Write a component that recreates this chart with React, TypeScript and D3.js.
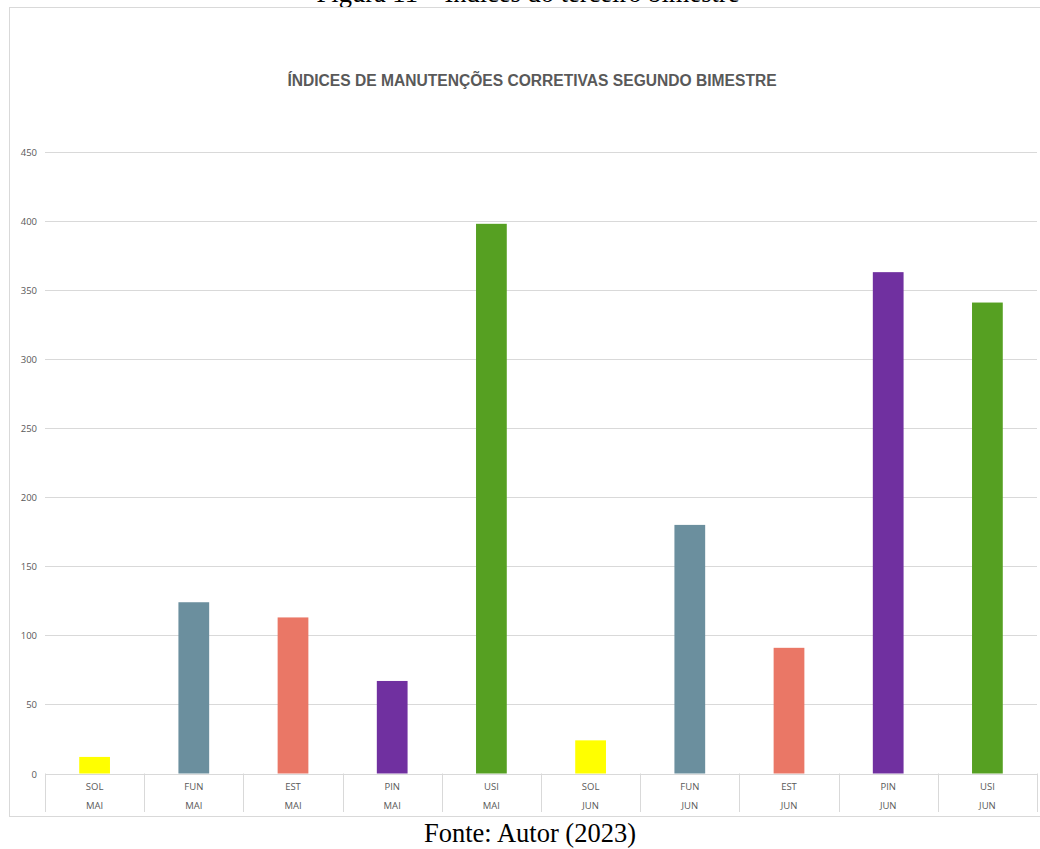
import * as d3 from 'd3';

// categorias e valores
const setores = ['SOL', 'FUN', 'EST', 'PIN', 'USI', 'SOL', 'FUN', 'EST', 'PIN', 'USI'];
const meses = ['MAI', 'MAI', 'MAI', 'MAI', 'MAI', 'JUN', 'JUN', 'JUN', 'JUN', 'JUN'];
const valores = [12, 124, 113, 67, 398, 24, 180, 91, 363, 341];
const yTicks = [0, 50, 100, 150, 200, 250, 300, 350, 400, 450];

const corSetor: Record<string, string> = {
    SOL: '#ffff00',
    FUN: '#6b8f9e',
    EST: '#ea7766',
    PIN: '#7030a0',
    USI: '#56a022',
};

export default function App() {
    const width = 1040;
    const height = 849;

    const margins = { left: 45, right: 1037, top: 152, bottom: 773.5 };

    const keys = setores.map((s, i) => `${s}-${meses[i]}-${i}`);

    const xScale = d3
        .scaleBand()
        .domain(keys)
        .range([margins.left, margins.right])
        .paddingInner(0.69)
        .paddingOuter(0.345);

    const yScale = d3.scaleLinear().domain([0, 450]).range([margins.bottom, margins.top]);

    const bandStep = (margins.right - margins.left) / keys.length;
    const grid = '#d9d9d9';
    const txt = '#595959';

    return (
        <div style={{ position: 'absolute', left: 0, top: 0 }}>
            <svg width={width} height={height} viewBox={`0 0 ${width} ${height}`} style={{ display: 'block', background: '#fff' }}>
                {/* legenda da figura, cortada no topo como no original */}
                <text x={528} y={2} textAnchor='middle' fontFamily='Liberation Serif, Times New Roman, serif' fontSize={26.5} fill='#000'>
                    Figura 11 – Índices do terceiro bimestre
                </text>

                <rect x={9.5} y={7.5} width={1040} height={809} fill='#fff' stroke={grid} strokeWidth={1} />

                <text x={532} y={86} textAnchor='middle' fontFamily='Liberation Sans, Arial, sans-serif' fontWeight='bold' fontSize={15.6} fill={txt}>
                    ÍNDICES DE MANUTENÇÕES CORRETIVAS SEGUNDO BIMESTRE
                </text>

                {yTicks.map((t) => (
                    <g key={t} transform={`translate(0, ${Math.round(yScale(t)) + 0.5})`}>
                        <line x1={margins.left} x2={margins.right} stroke={grid} strokeWidth={1} />
                        <text x={37} dy='0.35em' textAnchor='end' fontFamily='Open Sans, Noto Sans, sans-serif' fontSize={9.5} fill={txt}>
                            {t}
                        </text>
                    </g>
                ))}

                {valores.map((v, i) => (
                    <rect
                        key={keys[i]}
                        x={xScale(keys[i]) as number}
                        y={yScale(v)}
                        width={xScale.bandwidth()}
                        height={yScale(0) - yScale(v)}
                        fill={corSetor[setores[i]]}
                    />
                ))}

                {/* eixo de categorias em dois níveis */}
                {d3.range(keys.length + 1).map((i) => (
                    <line
                        key={`div-${i}`}
                        x1={Math.round(margins.left + i * bandStep) + 0.5}
                        x2={Math.round(margins.left + i * bandStep) + 0.5}
                        y1={margins.bottom}
                        y2={812}
                        stroke={grid}
                        strokeWidth={1}
                    />
                ))}
                {keys.map((k, i) => {
                    const cx = (xScale(k) as number) + xScale.bandwidth() / 2;
                    return (
                        <g key={`lbl-${k}`} fontFamily='Open Sans, Noto Sans, sans-serif' fontSize={9.5} fill={txt} textAnchor='middle'>
                            <text x={cx} y={789.5}>
                                {setores[i]}
                            </text>
                            <text x={cx} y={808.5}>
                                {meses[i]}
                            </text>
                        </g>
                    );
                })}

                <text x={530} y={842} textAnchor='middle' fontFamily='Liberation Serif, Times New Roman, serif' fontSize={26.5} fill='#000'>
                    Fonte: Autor (2023)
                </text>
            </svg>
        </div>
    );
}
